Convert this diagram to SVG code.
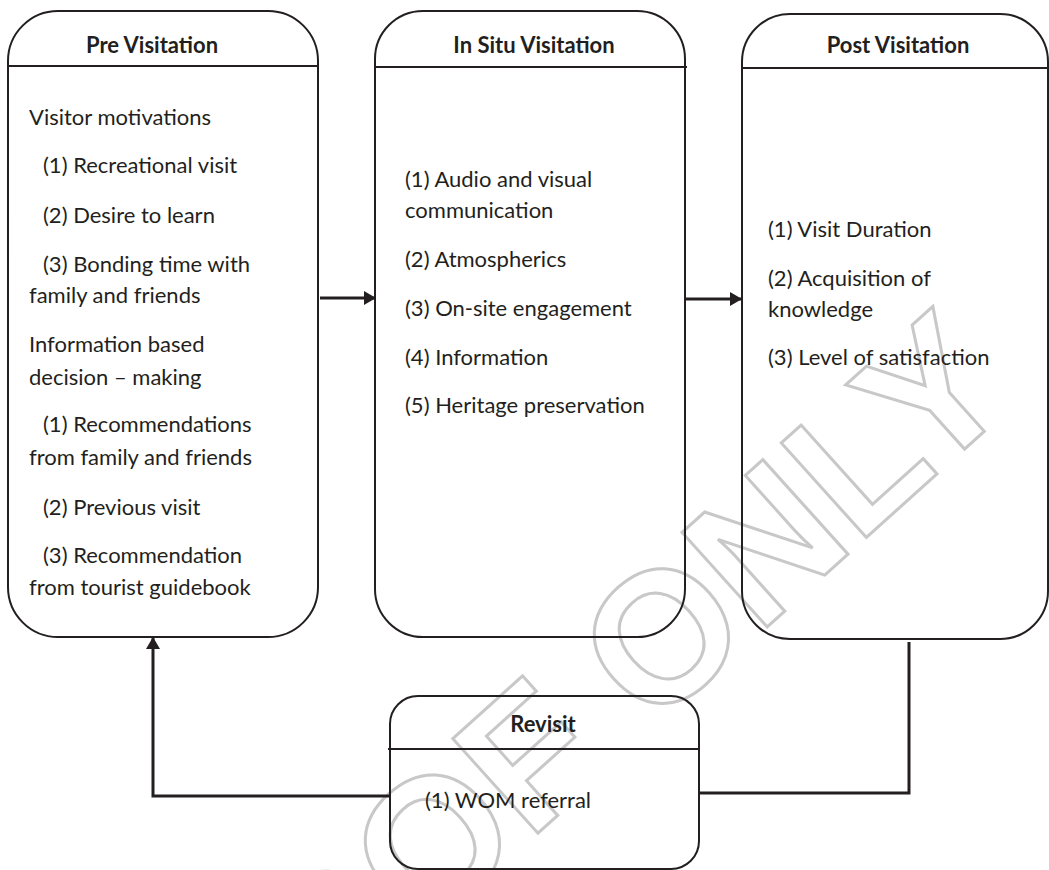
<svg xmlns="http://www.w3.org/2000/svg" width="1049" height="870" viewBox="0 0 1049 870">
<style>
.box{fill:none;stroke:#231f20;stroke-width:2}
.hdr{stroke:#231f20;stroke-width:2}
.t{font-family:Lato,"Open Sans","Liberation Sans",sans-serif;font-size:22px;fill:#231f20}
.h{font-family:Lato,"Open Sans","Liberation Sans",sans-serif;font-size:22px;font-weight:bold;fill:#231f20;text-anchor:middle}
.c{fill:none;stroke:#231f20;stroke-width:3}
.wm{font-family:"Liberation Sans",Arial,sans-serif;font-weight:bold;font-size:185px;fill:none;stroke:#c8c8c8;stroke-width:3}
</style>
<defs>
<marker id="ah" viewBox="0 0 12 14" refX="12" refY="7" markerWidth="12" markerHeight="14" markerUnits="userSpaceOnUse" orient="auto">
<path d="M0,0 L12,7 L0,14 Z" fill="#231f20"/>
</marker>
</defs>
<rect width="1049" height="870" fill="#fff"/>
<g id="watermark" transform="translate(124,1206) rotate(-42)">
<text class="wm" x="0" y="0">PROOF ONLY</text>
</g>
<g id="pre">
<path class="box" d="M58,11 H268 A50,50 0 0 1 318,61 V587 A50,50 0 0 1 268,637 H58 A50,50 0 0 1 8,587 V61 A50,50 0 0 1 58,11 Z"/>
<line class="hdr" x1="8" y1="66" x2="318" y2="66"/>
<text class="h" x="152" y="53">Pre Visitation</text>
<text class="t" x="29" y="125">Visitor motivations</text>
<text class="t" x="43" y="173">(1) Recreational visit</text>
<text class="t" x="43" y="223">(2) Desire to learn</text>
<text class="t" x="43" y="272">(3) Bonding time with</text>
<text class="t" x="29" y="303">family and friends</text>
<text class="t" x="29" y="352">Information based</text>
<text class="t" x="29" y="385">decision – making</text>
<text class="t" x="43" y="432">(1) Recommendations</text>
<text class="t" x="29" y="465">from family and friends</text>
<text class="t" x="43" y="515">(2) Previous visit</text>
<text class="t" x="43" y="563">(3) Recommendation</text>
<text class="t" x="29" y="595">from tourist guidebook</text>
</g>
<g id="insitu">
<path class="box" d="M423,11 H637 A48,48 0 0 1 685,59 V589 A48,48 0 0 1 637,637 H423 A48,48 0 0 1 375,589 V59 A48,48 0 0 1 423,11 Z"/>
<line class="hdr" x1="375" y1="67" x2="687" y2="67"/>
<text class="h" x="534" y="53">In Situ Visitation</text>
<text class="t" x="405" y="187">(1) Audio and visual</text>
<text class="t" x="405" y="218">communication</text>
<text class="t" x="405" y="267">(2) Atmospherics</text>
<text class="t" x="405" y="316">(3) On-site engagement</text>
<text class="t" x="405" y="365">(4) Information</text>
<text class="t" x="405" y="413">(5) Heritage preservation</text>
</g>
<g id="post">
<path class="box" d="M790,14 H1000 A48,48 0 0 1 1048,62 V591 A48,48 0 0 1 1000,639 H790 A48,48 0 0 1 742,591 V62 A48,48 0 0 1 790,14 Z"/>
<line class="hdr" x1="742" y1="68" x2="1049" y2="68"/>
<text class="h" x="898" y="53">Post Visitation</text>
<text class="t" x="768" y="237">(1) Visit Duration</text>
<text class="t" x="768" y="286">(2) Acquisition of</text>
<text class="t" x="768" y="317">knowledge</text>
<text class="t" x="768" y="365">(3) Level of satisfaction</text>
</g>
<g id="revisit">
<path class="box" d="M418,696 H671 A28,28 0 0 1 699,724 V841 A28,28 0 0 1 671,869 H418 A28,28 0 0 1 390,841 V724 A28,28 0 0 1 418,696 Z"/>
<line class="hdr" x1="388" y1="749" x2="699" y2="749"/>
<text class="h" x="543" y="732">Revisit</text>
<text class="t" x="425" y="808">(1) WOM referral</text>
</g>
<g id="connectors">
<line class="c" x1="320" y1="298" x2="376" y2="298" marker-end="url(#ah)"/>
<line class="c" x1="686" y1="299" x2="742" y2="299" marker-end="url(#ah)"/>
<polyline class="c" points="909,642 909,793 700,793"/>
<polyline class="c" points="390,796 153,796 153,637" marker-end="url(#ah)"/>
</g>
</svg>
